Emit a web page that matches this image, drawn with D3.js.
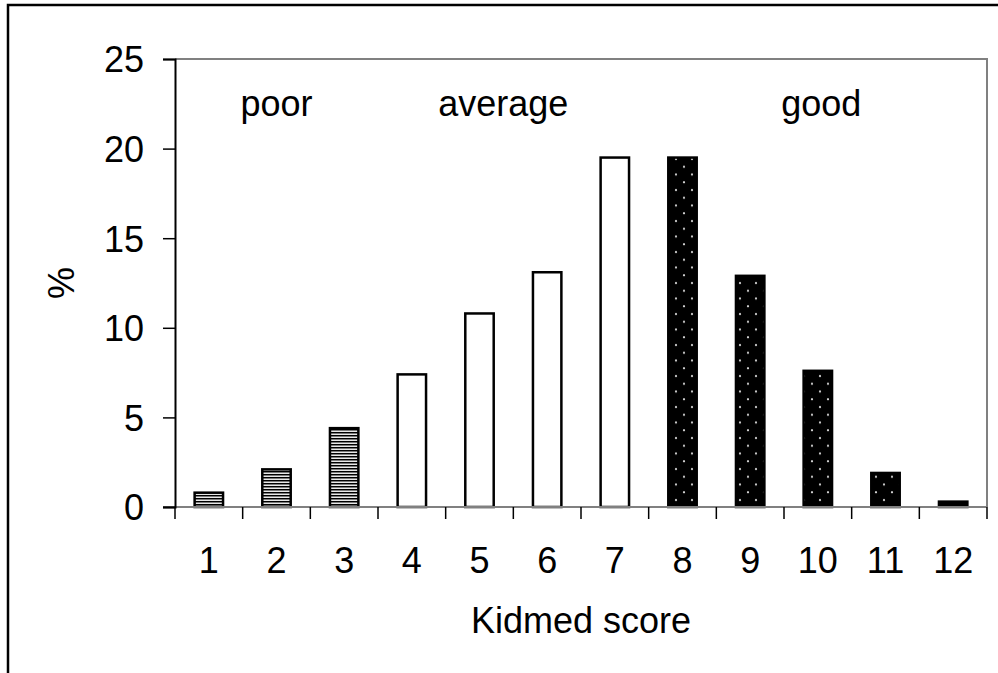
<!DOCTYPE html>
<html>
<head>
<meta charset="utf-8">
<script src="https://cdn.jsdelivr.net/npm/d3@7"></script>
<style>
  body { margin: 0; background: #fff; }
  svg text { font-family: "Liberation Sans", Arial, sans-serif; fill: #000; }
</style>
</head>
<body>
<svg id="chart"></svg>
<script>
// kidmed score distribution
const scores = [1, 2, 3, 4, 5, 6, 7, 8, 9, 10, 11, 12]
const percents = [0.8, 2.1, 4.4, 7.4, 10.8, 13.1, 19.5, 19.5, 12.9, 7.6, 1.9, 0.3]
const groups = ["poor", "poor", "poor", "average", "average", "average", "average", "good", "good", "good", "good", "good"]
const yTicks = [0, 5, 10, 15, 20, 25]
const groupLabels = ["poor", "average", "good"]
const groupLabelAt = [2, 5.35, 10.05]   // score position of each label

const width = 998, height = 673
const margin = {left: 175, top: 59, right: 11, bottom: 166}
const fontSize = 36

const svg = d3.select("#chart")
    .attr("width", width)
    .attr("height", height)

const defs = svg.append("defs")

// horizontal stripes for "poor"
const stripes = defs.append("pattern")
    .attr("id", "stripes")
    .attr("patternUnits", "userSpaceOnUse")
    .attr("width", 6).attr("height", 3)
stripes.append("rect").attr("width", 6).attr("height", 3).attr("fill", "#e8e8e8")
stripes.append("rect").attr("width", 6).attr("height", 1).attr("y", 0).attr("fill", "#000")
stripes.append("rect").attr("width", 6).attr("height", 1).attr("y", 1).attr("fill", "#7a7a7a")

// white dots on black for "good"
const dots = defs.append("pattern")
    .attr("id", "dots")
    .attr("patternUnits", "userSpaceOnUse")
    .attr("width", 16).attr("height", 15.5)
dots.append("rect").attr("width", 16).attr("height", 15.5).attr("fill", "#000")
dots.append("circle").attr("cx", 4).attr("cy", 4).attr("r", 1.1).attr("fill", "#ddd")
dots.append("circle").attr("cx", 12).attr("cy", 11.75).attr("r", 1.1).attr("fill", "#ddd")

const fills = {poor: "url(#stripes)", average: "#fff", good: "url(#dots)"}

// outer frame (cut off at right and bottom)
svg.append("rect")
    .attr("x", 8).attr("y", 5)
    .attr("width", 1100).attr("height", 900)
    .attr("fill", "none")
    .attr("stroke", "#000")
    .attr("stroke-width", 2.5)

const x = d3.scaleBand()
    .domain(scores)
    .range([margin.left, width - margin.right])
    .padding(0)

const y = d3.scaleLinear()
    .domain([0, 25])
    .range([height - margin.bottom, margin.top])

// plot area border (top and right, gray)
svg.append("path")
    .attr("d", `M${margin.left},${margin.top}H${width - margin.right}V${height - margin.bottom}`)
    .attr("fill", "none")
    .attr("stroke", "#808080")
    .attr("stroke-width", 2)

const barW = x.bandwidth() * 0.42

svg.append("g")
    .selectAll("rect")
    .data(scores)
    .enter()
    .append("rect")
    .attr("x", (d) => x(d) + (x.bandwidth() - barW) / 2)
    .attr("y", (d, i) => y(percents[i]))
    .attr("width", barW)
    .attr("height", (d, i) => y(0) - y(percents[i]))
    .attr("fill", (d, i) => fills[groups[i]])
    .attr("stroke", "#000")
    .attr("stroke-width", 2.5)

// x axis: ticks on band edges
const xAxis = svg.append("g")
    .attr("transform", `translate(0,${y(0)})`)

xAxis.append("line")
    .attr("x1", margin.left - 12).attr("x2", width - margin.right)
    .attr("stroke", "#808080").attr("stroke-width", 2)

xAxis.selectAll("line.tick")
    .data(scores.concat(["end"]))
    .enter()
    .append("line")
    .attr("class", "tick")
    .attr("x1", (d) => d === "end" ? x.range()[1] : x(d))
    .attr("x2", (d) => d === "end" ? x.range()[1] : x(d))
    .attr("y1", 0).attr("y2", 12)
    .attr("stroke", "#000").attr("stroke-width", 1.5)

xAxis.selectAll("text")
    .data(scores)
    .enter()
    .append("text")
    .attr("x", (d) => x(d) + x.bandwidth() / 2)
    .attr("y", 66)
    .attr("text-anchor", "middle")
    .attr("font-size", fontSize)
    .text((d) => d)

// y axis
const yAxis = d3.axisLeft(y)
    .tickValues(yTicks)
    .tickSize(12)
    .tickPadding(19)

const yg = svg.append("g")
    .attr("transform", `translate(${margin.left},0)`)
    .call(yAxis)
yg.select(".domain").attr("stroke", "#000").attr("stroke-width", 2)
yg.selectAll(".tick line").attr("stroke", "#000").attr("stroke-width", 1.5)
yg.selectAll(".tick text")
    .attr("font-size", fontSize)
    .attr("font-family", "Liberation Sans, Arial, sans-serif")
    .attr("fill", "#000")
    .attr("dy", "0.36em")

// group labels
svg.append("g")
    .selectAll("text")
    .data(groupLabels)
    .enter()
    .append("text")
    .attr("x", (d, i) => x.range()[0] + groupLabelAt[i] * x.bandwidth() - x.bandwidth() / 2)
    .attr("y", 116)
    .attr("text-anchor", "middle")
    .attr("font-size", fontSize)
    .text((d) => d)

// axis titles
svg.append("text")
    .attr("x", (margin.left + width - margin.right) / 2)
    .attr("y", 633)
    .attr("text-anchor", "middle")
    .attr("font-size", fontSize)
    .text("Kidmed score")

svg.append("text")
    .attr("transform", `translate(74,${(y(0) + y(25)) / 2}) rotate(-90)`)
    .attr("text-anchor", "middle")
    .attr("font-size", fontSize)
    .text("%")
</script>
</body>
</html>
